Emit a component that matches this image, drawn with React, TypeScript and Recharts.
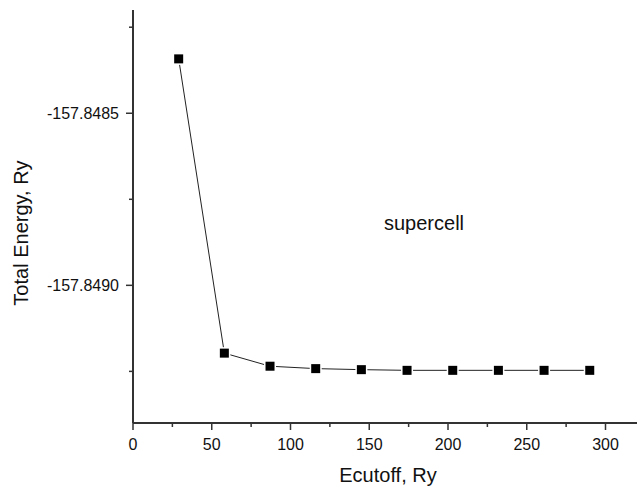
import { LineChart, Line, XAxis, YAxis, Customized } from 'recharts';

const cutoff = [29, 58, 87, 116, 145, 174, 203, 232, 261, 290];
const totalEnergy = [
    -157.848342, -157.849197, -157.849235, -157.849242, -157.849245,
    -157.849247, -157.849247, -157.849247, -157.849247, -157.849247,
];
const xTicks = [0, 25, 50, 75, 100, 125, 150, 175, 200, 225, 250, 275, 300];
const yTicks = [-157.84825, -157.8485, -157.84875, -157.849, -157.84925];

const FONT = 'Arial, "Liberation Sans", sans-serif';
const AXIS = '#333';

const data = cutoff.map((x, i) => ({ x, e: totalEnergy[i] }));

function isMajorY(v: number) {
    return Math.abs(v * 2000 - Math.round(v * 2000)) < 1e-6;
}

function YTick(props: any) {
    const { x, y, payload } = props;
    const major = isMajorY(payload.value);
    return (
        <g>
            <line x1={x - (major ? 7 : 4)} x2={x} y1={y} y2={y} stroke={AXIS} strokeWidth={1.5} />
            {major && (
                <text x={x - 14} y={y + 6} textAnchor="end" fontSize={16} fontFamily={FONT} fill="#111">
                    {payload.value.toFixed(4)}
                </text>
            )}
        </g>
    );
}

function XTick(props: any) {
    const { x, y, payload } = props;
    const major = payload.value % 50 === 0;
    return (
        <g>
            <line x1={x} x2={x} y1={y} y2={y + (major ? 7 : 4)} stroke={AXIS} strokeWidth={1.5} />
            {major && (
                <text x={x} y={y + 27} textAnchor="middle" fontSize={16} fontFamily={FONT} fill="#111">
                    {payload.value}
                </text>
            )}
        </g>
    );
}

function SquareDot(props: any) {
    const { cx, cy } = props;
    if (cx == null || cy == null) return null;
    return (
        <g>
            <rect x={cx - 6} y={cy - 6} width={12} height={12} fill="#fff" />
            <rect x={cx - 4.5} y={cy - 4.5} width={9} height={9} fill="#000" />
        </g>
    );
}

function Titles() {
    return (
        <g fontFamily={FONT} fill="#111">
            <text x={388} y={482} textAnchor="middle" fontSize={20}>
                Ecutoff, Ry
            </text>
            <text x={28} y={233} textAnchor="middle" fontSize={20} transform="rotate(-90 28 233)">
                Total Energy, Ry
            </text>
            <text x={384} y={230} fontSize={20}>
                supercell
            </text>
        </g>
    );
}

export default function App() {
    return (
        <div style={{ position: 'absolute', left: 0, top: 0, background: '#fff' }}>
            <LineChart width={639} height={491} data={data} margin={{ top: 10, right: 2, bottom: 0, left: 0 }}>
                <XAxis
                    dataKey="x"
                    type="number"
                    domain={[0, 320]}
                    ticks={xTicks}
                    interval={0}
                    height={68}
                    tickSize={0}
                    tickMargin={0}
                    tickLine={false}
                    tick={<XTick />}
                    axisLine={{ stroke: AXIS, strokeWidth: 2 }}
                />
                <YAxis
                    type="number"
                    domain={[-157.8494, -157.8482]}
                    ticks={yTicks}
                    interval={0}
                    width={133}
                    tickSize={0}
                    tickMargin={0}
                    tickLine={false}
                    tick={<YTick />}
                    axisLine={{ stroke: AXIS, strokeWidth: 2 }}
                />
                <Line
                    dataKey="e"
                    type="linear"
                    stroke="#222"
                    strokeWidth={1}
                    dot={<SquareDot />}
                    activeDot={false}
                    isAnimationActive={false}
                />
                <Customized component={Titles} />
            </LineChart>
        </div>
    );
}
